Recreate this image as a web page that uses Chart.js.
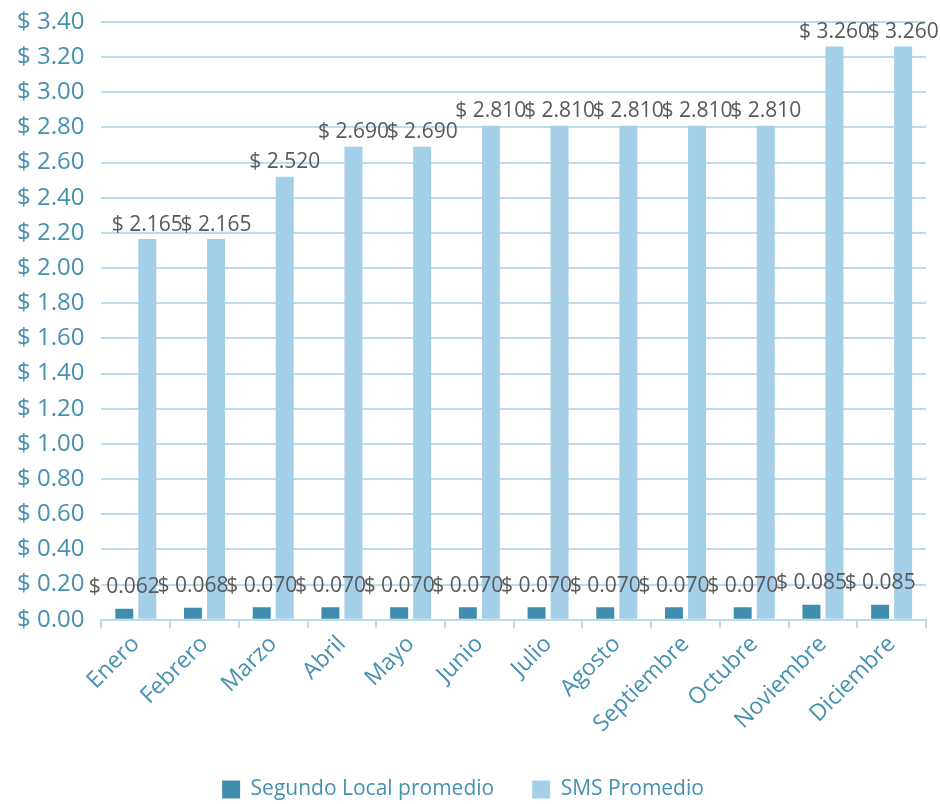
<!DOCTYPE html>
<html lang="es">
<head>
  <meta charset="UTF-8">
  <title>Promedios</title>
  <script src="https://cdn.jsdelivr.net/npm/chart.js"></script>
  <style>
    html, body { margin: 0; padding: 0; background: #fff; }
    #wrap { width: 940px; height: 804px; }
  </style>
</head>
<body>
  <div id="wrap"><canvas id="chart"></canvas></div>
  <script>
    // Data
    const months = ['Enero', 'Febrero', 'Marzo', 'Abril', 'Mayo', 'Junio', 'Julio', 'Agosto', 'Septiembre', 'Octubre', 'Noviembre', 'Diciembre'];
    const segundoLocal = [0.062, 0.068, 0.070, 0.070, 0.070, 0.070, 0.070, 0.070, 0.070, 0.070, 0.085, 0.085];
    const smsPromedio = [2.165, 2.165, 2.520, 2.690, 2.690, 2.810, 2.810, 2.810, 2.810, 2.810, 3.260, 3.260];

    const axisBlue = '#4690B0';
    const gridBlue = '#BCDCEE';
    const font = '"Open Sans", "Liberation Sans", sans-serif';

    // simple value labels above each bar
    const valueLabels = {
      id: 'valueLabels',
      afterDatasetsDraw(chart) {
        const ctx = chart.ctx;
        ctx.save();
        ctx.font = '21px ' + font;
        ctx.fillStyle = '#595959';
        ctx.textAlign = 'center';
        ctx.textBaseline = 'bottom';
        chart.data.datasets.forEach((ds, i) => {
          chart.getDatasetMeta(i).data.forEach((bar, j) => {
            const txt = '$ ' + ds.data[j].toFixed(3);
            let y = bar.y - (i === 0 ? 11 : 4);
            if (y < 34) y = 34;
            ctx.fillText(txt, bar.x, y);
          });
        });
        ctx.restore();
      }
    };

    new Chart(document.getElementById('chart'), {
      type: 'bar',
      data: {
        labels: months,
        datasets: [
          { label: 'Segundo Local promedio', data: segundoLocal, backgroundColor: '#418DAE' },
          { label: 'SMS Promedio', data: smsPromedio, backgroundColor: '#A3CFE8' }
        ]
      },
      options: {
        responsive: true,
        maintainAspectRatio: false,
        animation: false,
        categoryPercentage: 0.67,
        barPercentage: 0.78,
        layout: { padding: { top: 22, right: 14, left: 0, bottom: -6 } },
        plugins: {
          tooltip: { enabled: false },
          legend: {
            position: 'bottom',
            labels: {
              color: axisBlue,
              font: { family: font, size: 21 },
              boxWidth: 18,
              boxHeight: 18,
              padding: 38
            }
          }
        },
        scales: {
          x: {
            grid: { offset: true, drawOnChartArea: false, color: gridBlue, lineWidth: 2, tickLength: 8 },
            border: { color: gridBlue, width: 2 },
            ticks: {
              color: axisBlue,
              font: { family: font, size: 23 },
              minRotation: 45,
              maxRotation: 45
            }
          },
          y: {
            min: 0,
            max: 3.4,
            afterFit: s => { s.paddingTop = 0; },
            grid: { color: gridBlue, lineWidth: 2, drawTicks: false },
            border: { display: false },
            ticks: {
              stepSize: 0.2,
              color: axisBlue,
              padding: 17,
              font: { family: font, size: 24 },
              callback: v => '$ ' + Number(v).toFixed(2)
            }
          }
        }
      },
      plugins: [valueLabels]
    });
  </script>
</body>
</html>
